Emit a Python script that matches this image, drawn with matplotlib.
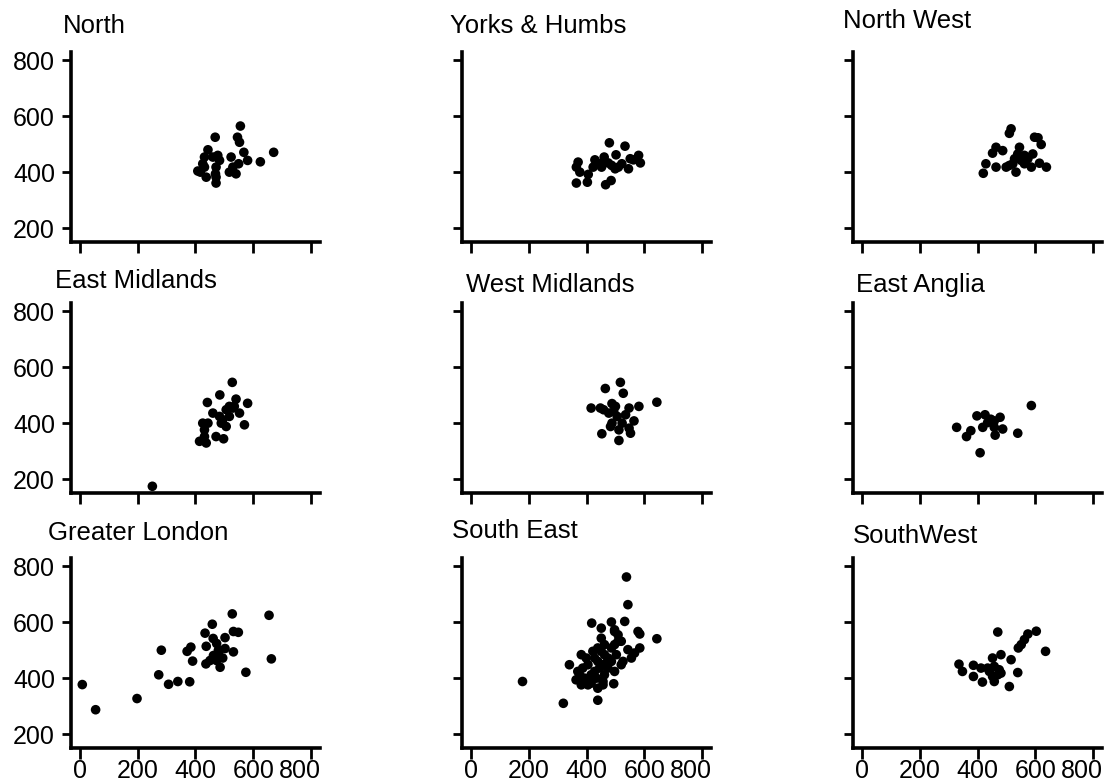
import matplotlib
matplotlib.use("Agg")
import matplotlib.pyplot as plt
from matplotlib.transforms import ScaledTranslation

plt.rcParams['font.family'] = ['Liberation Sans', 'DejaVu Sans']

# regional scatter data (x, y) per region
north_x = [468, 555, 545, 552, 670, 624, 567, 580, 549, 523, 443, 431, 425, 408, 437,
           471, 471, 477, 483, 517, 540, 469, 460, 529, 431, 471, 417]
north_y = [525, 565, 525, 507, 471, 437, 471, 442, 430, 454, 480, 454, 430, 404, 382,
           361, 418, 460, 442, 400, 394, 394, 454, 418, 418, 382, 400]

yorks_x = [479, 533, 502, 461, 429, 446, 475, 487, 510, 545, 551, 580, 586, 562, 371,
           365, 377, 406, 365, 403, 466, 485, 452, 522, 423, 499]
yorks_y = [505, 493, 462, 454, 444, 430, 433, 424, 418, 412, 448, 460, 433, 444, 436,
           418, 400, 392, 361, 364, 355, 370, 418, 430, 418, 412]

nwest_x = [516, 510, 597, 609, 620, 464, 452, 487, 545, 539, 562, 591, 551, 528, 574,
           510, 464, 429, 420, 533, 586, 614, 638, 562, 499, 548, 522]
nwest_y = [555, 539, 525, 523, 499, 489, 468, 477, 489, 465, 460, 465, 442, 448, 448,
           424, 418, 430, 396, 400, 418, 432, 418, 430, 418, 454, 430]

emid_x = [251, 527, 484, 441, 540, 580, 460, 506, 529, 552, 517, 494, 425, 443, 431,
          506, 569, 471, 497, 414, 437, 431, 483, 534, 517, 489]
emid_y = [174, 546, 501, 474, 486, 471, 436, 448, 454, 436, 424, 412, 400, 400, 376,
          388, 394, 352, 344, 335, 329, 352, 424, 460, 460, 400]

wmid_x = [517, 465, 527, 643, 416, 448, 488, 500, 547, 581, 477, 506, 564, 488, 523,
          453, 552, 512, 512, 535, 459, 494, 483, 547]
wmid_y = [546, 524, 507, 475, 454, 454, 470, 460, 454, 460, 436, 424, 408, 400, 400,
          362, 364, 338, 376, 430, 448, 442, 388, 382]

eang_x = [586, 398, 426, 478, 446, 418, 458, 487, 461, 539, 328, 377, 362, 409, 435, 458]
eang_y = [463, 426, 430, 421, 414, 385, 385, 379, 357, 364, 385, 373, 352, 294, 402, 408]

london_x = [9, 55, 198, 273, 282, 307, 339, 380, 371, 384, 390, 433, 458, 437, 436,
            461, 473, 479, 502, 527, 531, 548, 531, 485, 494, 450, 462, 502, 574, 654,
            662, 479, 473]
london_y = [377, 287, 327, 412, 500, 378, 388, 387, 496, 511, 461, 561, 593, 514, 451,
            542, 524, 500, 545, 630, 567, 564, 494, 439, 472, 463, 481, 506, 421, 625,
            469, 488, 463]

seast_x = [538, 543, 418, 486, 532, 578, 584, 643, 451, 497, 509, 584, 566, 543, 526,
           520, 497, 494, 341, 179, 320, 439, 439, 457, 382, 399, 376, 393, 382, 416,
           428, 439, 451, 462, 474, 486, 439, 428, 474, 451, 405, 416, 497, 509, 405,
           434, 462, 486, 451, 503, 387, 462, 422, 364, 370, 445, 468, 457, 497, 520, 555]
seast_y = [762, 663, 597, 601, 603, 567, 558, 541, 579, 573, 555, 508, 490, 502, 460,
           448, 424, 380, 448, 388, 310, 321, 364, 376, 484, 472, 412, 400, 376, 382,
           424, 460, 496, 520, 472, 508, 508, 472, 436, 448, 448, 412, 520, 532, 376,
           400, 412, 460, 543, 484, 436, 484, 496, 394, 424, 436, 454, 388, 567, 532, 472]

swest_x = [470, 603, 574, 562, 551, 541, 635, 516, 481, 452, 539, 510, 336, 348, 386,
           412, 435, 386, 417, 458, 470, 481, 452, 475, 441, 458]
swest_y = [565, 568, 558, 538, 520, 508, 496, 466, 484, 472, 420, 370, 450, 424, 446,
           436, 436, 406, 386, 388, 412, 418, 406, 430, 424, 442]

regions = [
    ("North", north_x, north_y),
    ("Yorks & Humbs", yorks_x, yorks_y),
    ("North West", nwest_x, nwest_y),
    ("East Midlands", emid_x, emid_y),
    ("West Midlands", wmid_x, wmid_y),
    ("East Anglia", eang_x, eang_y),
    ("Greater London", london_x, london_y),
    ("South East", seast_x, seast_y),
    ("SouthWest", swest_x, swest_y),
]

x_ticks = [0, 200, 400, 600, 800]
y_ticks = [200, 400, 600, 800]

# title anchor (left, baseline) in pixels from top-left
title_pos = [(63, 33), (450, 33), (843, 28),
             (55, 288), (466, 292), (856, 292),
             (48, 540), (452, 538), (853, 543)]

W, H = 1106, 782
fig = plt.figure(figsize=(W / 100, H / 100), dpi=100)

lefts = [71, 462, 853]
tops = [52, 303, 558]
aw, ah = 249, 190

for i, (name, xs, ys) in enumerate(regions):
    row, col = divmod(i, 3)
    ax = fig.add_axes([lefts[col] / W, 1 - (tops[row] + ah) / H, aw / W, ah / H])
    ax.scatter(xs, ys, s=48, color='black', edgecolors='none', zorder=3)
    ax.set_xlim(-30, 830)
    ax.set_ylim(150, 830)
    ax.set_xticks(x_ticks)
    ax.set_yticks(y_ticks)
    for side in ['top', 'right']:
        ax.spines[side].set_visible(False)
    for side in ['left', 'bottom']:
        ax.spines[side].set_linewidth(2.6)
    ax.tick_params(axis='y', length=6.5, width=2, pad=5, labelsize=18)
    ax.tick_params(axis='x', length=8, width=2, pad=0, labelsize=18)
    if col != 0:
        ax.set_yticklabels([])
    if row != 2:
        ax.set_xticklabels([])
    else:
        # the crowded right-hand label sits a little to the left
        last = ax.get_xticklabels()[-1]
        last.set_transform(last.get_transform() + ScaledTranslation(-8 / 72, 0, fig.dpi_scale_trans))
    tx, ty = title_pos[i]
    fig.text(tx / W, 1 - ty / H, name, fontsize=18.5, ha='left', va='baseline')

fig.savefig("out.png", dpi=100)
